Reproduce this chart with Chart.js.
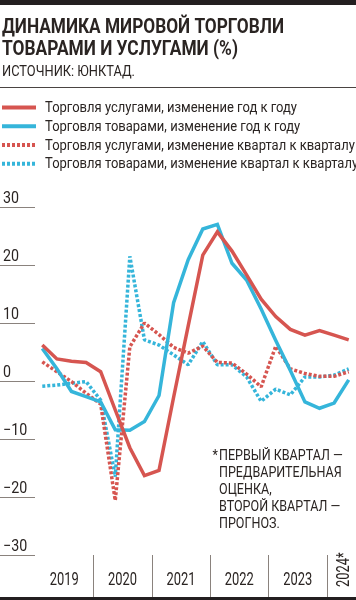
<!DOCTYPE html>
<html lang="ru">
<head>
<meta charset="utf-8">
<script src="https://cdn.jsdelivr.net/npm/chart.js@4/dist/chart.umd.min.js"></script>
<style>
  html, body { margin: 0; padding: 0; background: #fff; }
  #wrap { position: relative; width: 356px; height: 600px; overflow: hidden; }
  canvas { display: block; }
</style>
</head>
<body>
<div id="wrap"><canvas id="c" width="356" height="600"></canvas></div>
<script>
// ---------- DATA ----------
const quarters = ['2019 Q1','2019 Q2','2019 Q3','2019 Q4',
                  '2020 Q1','2020 Q2','2020 Q3','2020 Q4',
                  '2021 Q1','2021 Q2','2021 Q3','2021 Q4',
                  '2022 Q1','2022 Q2','2022 Q3','2022 Q4',
                  '2023 Q1','2023 Q2','2023 Q3','2023 Q4',
                  '2024 Q1','2024 Q2'];
const years = ['2019','2020','2021','2022','2023','2024*'];
const yTicks = [30, 20, 10, 0, -10, -20, -30];

const servicesYoY = [6.2, 3.8, 3.4, 3.2, 1.6, -5.0, -11.5, -16.3, -15.4, -2.8, 9.5, 21.7,
                     25.7, 22.4, 18.3, 14.1, 11.1, 8.9, 7.9, 8.7, 7.9, 7.1];
const goodsYoY    = [5.6, 2.1, -1.8, -2.7, -3.6, -8.4, -8.5, -7.0, -2.5, 13.5, 20.9, 26.2,
                     27.0, 20.3, 17.4, 12.4, 7.0, 1.8, -3.6, -4.7, -3.8, 0.2];
const servicesQoQ = [3.3, 1.6, -0.1, -2.1, -4.0, -20.6, 5.9, 10.0, 8.0, 5.8, 4.8, 6.0,
                     3.2, 3.1, 1.2, -1.0, 6.0, 2.1, 1.3, 0.8, 0.8, 1.6];
const goodsQoQ    = [-0.9, -0.7, -0.4, -0.1, -3.3, -16.5, 21.5, 7.1, 6.2, 4.5, 2.8, 6.8,
                     2.8, 2.8, 0.7, -3.5, -1.4, -2.4, 0.7, 0.7, 1.0, 2.1];

const seriesNames = ['Торговля услугами, изменение год к году',
                     'Торговля товарами, изменение год к году',
                     'Торговля услугами, изменение квартал к кварталу',
                     'Торговля товарами, изменение квартал к кварталу'];
const titleLines = ['ДИНАМИКА МИРОВОЙ ТОРГОВЛИ', 'ТОВАРАМИ И УСЛУГАМИ (%)'];
const sourceText = 'ИСТОЧНИК: ЮНКТАД.';
const noteLines = ['ПЕРВЫЙ КВАРТАЛ —', 'ПРЕДВАРИТЕЛЬНАЯ', 'ОЦЕНКА,', 'ВТОРОЙ КВАРТАЛ —', 'ПРОГНОЗ.'];

// ---------- STYLE ----------
const RED = '#d65550';
const BLUE = '#35b5da';
const INK = '#2a2422';
const GRID = '#8a827d';
const FONT = "'Liberation Sans Narrow', 'Roboto', 'DejaVu Sans Condensed', sans-serif";

const toXY = arr => arr.map((v, i) => ({ x: i + 0.5, y: v }));

function txt(ctx, s, x, y, size, weight, targetW, sx, align) {
  ctx.font = `${weight} ${size}px ${FONT}`;
  ctx.textAlign = align || 'left';
  ctx.textBaseline = 'alphabetic';
  const w = ctx.measureText(s).width;
  const k = targetW ? targetW / w : (sx || 1);
  ctx.save();
  ctx.translate(x, y);
  ctx.scale(k, 1);
  ctx.fillText(s, 0, 0);
  ctx.restore();
  return k;
}
function scaleFor(ctx, s, size, weight, targetW) {
  ctx.font = `${weight} ${size}px ${FONT}`;
  return targetW / ctx.measureText(s).width;
}

const decor = {
  id: 'decor',
  beforeDraw(chart) {
    const ctx = chart.ctx;
    ctx.save();
    ctx.fillStyle = '#fff';
    ctx.fillRect(0, 0, chart.width, chart.height);
    ctx.restore();
  },
  afterDraw(chart) {
    const ctx = chart.ctx;
    const xs = chart.scales.x, ys = chart.scales.y, area = chart.chartArea;
    ctx.save();
    // top bar
    ctx.fillStyle = '#231f20';
    ctx.fillRect(0, 0, chart.width, 5);
    // title
    ctx.fillStyle = INK;
    txt(ctx, titleLines[0], 2, 33, 21, 'bold', 282);
    txt(ctx, titleLines[1], 2, 55, 21, 'bold', 236);
    txt(ctx, sourceText, 2, 76, 15, 'normal', 133);
    // separator
    ctx.fillStyle = '#4a4442';
    ctx.fillRect(0, 87, chart.width, 1);

    // legend
    const legY = [107.5, 126.3, 145, 163.7];
    const legColors = [RED, BLUE, RED, BLUE];
    const legDash = [[], [], [3, 2], [3, 2]];
    const kLeg = scaleFor(ctx, seriesNames[0], 14, 'normal', 252);
    for (let i = 0; i < 4; i++) {
      ctx.save();
      ctx.strokeStyle = legColors[i];
      ctx.lineWidth = 4;
      ctx.setLineDash(legDash[i]);
      ctx.beginPath();
      ctx.moveTo(2, legY[i]);
      ctx.lineTo(36, legY[i]);
      ctx.stroke();
      ctx.restore();
      ctx.fillStyle = INK;
      txt(ctx, seriesNames[i], 45, legY[i] + 4.5, 14, 'normal', null, kLeg);
    }

    // y ticks
    const kY = scaleFor(ctx, '30', 16, 'normal', 16);
    yTicks.forEach(v => {
      const py = Math.round(ys.getPixelForValue(v));
      ctx.fillStyle = GRID;
      ctx.fillRect(0, py, area.left, 1);
      ctx.fillStyle = INK;
      const label = v < 0 ? '\u2212' + Math.abs(v) : String(v);
      txt(ctx, label, 3, py - 4, 16, 'normal', null, kY);
    });

    // x axis: year dividers and labels
    const yBottom = ys.getPixelForValue(-30);
    ctx.fillStyle = GRID;
    for (let q = 4; q < quarters.length; q += 4) {
      const px = Math.round(xs.getPixelForValue(q));
      ctx.fillRect(px, yBottom, 1, 598 - yBottom);
    }
    ctx.fillStyle = '#231f20';
    ctx.fillRect(0, 597, chart.width, 3);

    ctx.fillStyle = INK;
    const kX = scaleFor(ctx, '2019', 18, 'normal', 29);
    years.forEach((yr, k) => {
      if (k < 5) {
        const cx = xs.getPixelForValue(4 * k + 2);
        txt(ctx, yr, cx, 585, 18, 'normal', null, kX, 'center');
      } else {
        const cx = xs.getPixelForValue(4 * k + 1);
        ctx.save();
        ctx.translate(cx + 8, 587);
        ctx.rotate(-Math.PI / 2);
        txt(ctx, yr, 0, 0, 18, 'normal', null, kX, 'left');
        ctx.restore();
      }
    });

    // footnote
    const kN = scaleFor(ctx, noteLines[1], 14, 'normal', 122.7);
    txt(ctx, '*', 212.5, 460, 14, 'normal', null, kN);
    noteLines.forEach((s, i) => {
      txt(ctx, s, 219, 460 + 17 * i, 14, 'normal', null, kN);
    });
    ctx.restore();
  }
};

const mk = (label, data, color, dashed, order) => ({
  label, data: toXY(data),
  borderColor: color,
  backgroundColor: color,
  borderWidth: dashed ? 3.5 : 3.5,
  borderDash: dashed ? [3, 2] : [],
  borderCapStyle: 'butt',
  borderJoinStyle: dashed ? 'bevel' : 'miter',
  pointRadius: 0,
  tension: 0,
  fill: false,
  clip: false,
  order
});

new Chart(document.getElementById('c'), {
  type: 'line',
  data: {
    labels: quarters,
    datasets: [
      mk(seriesNames[0], servicesYoY, RED, false, 0),
      mk(seriesNames[1], goodsYoY, BLUE, false, 1),
      mk(seriesNames[2], servicesQoQ, RED, true, 2),
      mk(seriesNames[3], goodsQoQ, BLUE, true, 3)
    ]
  },
  options: {
    responsive: false,
    devicePixelRatio: 1,
    animation: false,
    layout: { padding: { left: 35, right: 0, top: 207, bottom: 45 } },
    scales: {
      x: { type: 'linear', min: 0, max: quarters.length, display: false },
      y: { type: 'linear', min: -30, max: 30, display: false }
    },
    plugins: { legend: { display: false }, tooltip: { enabled: false }, title: { display: false } }
  },
  plugins: [decor]
});
</script>
</body>
</html>
